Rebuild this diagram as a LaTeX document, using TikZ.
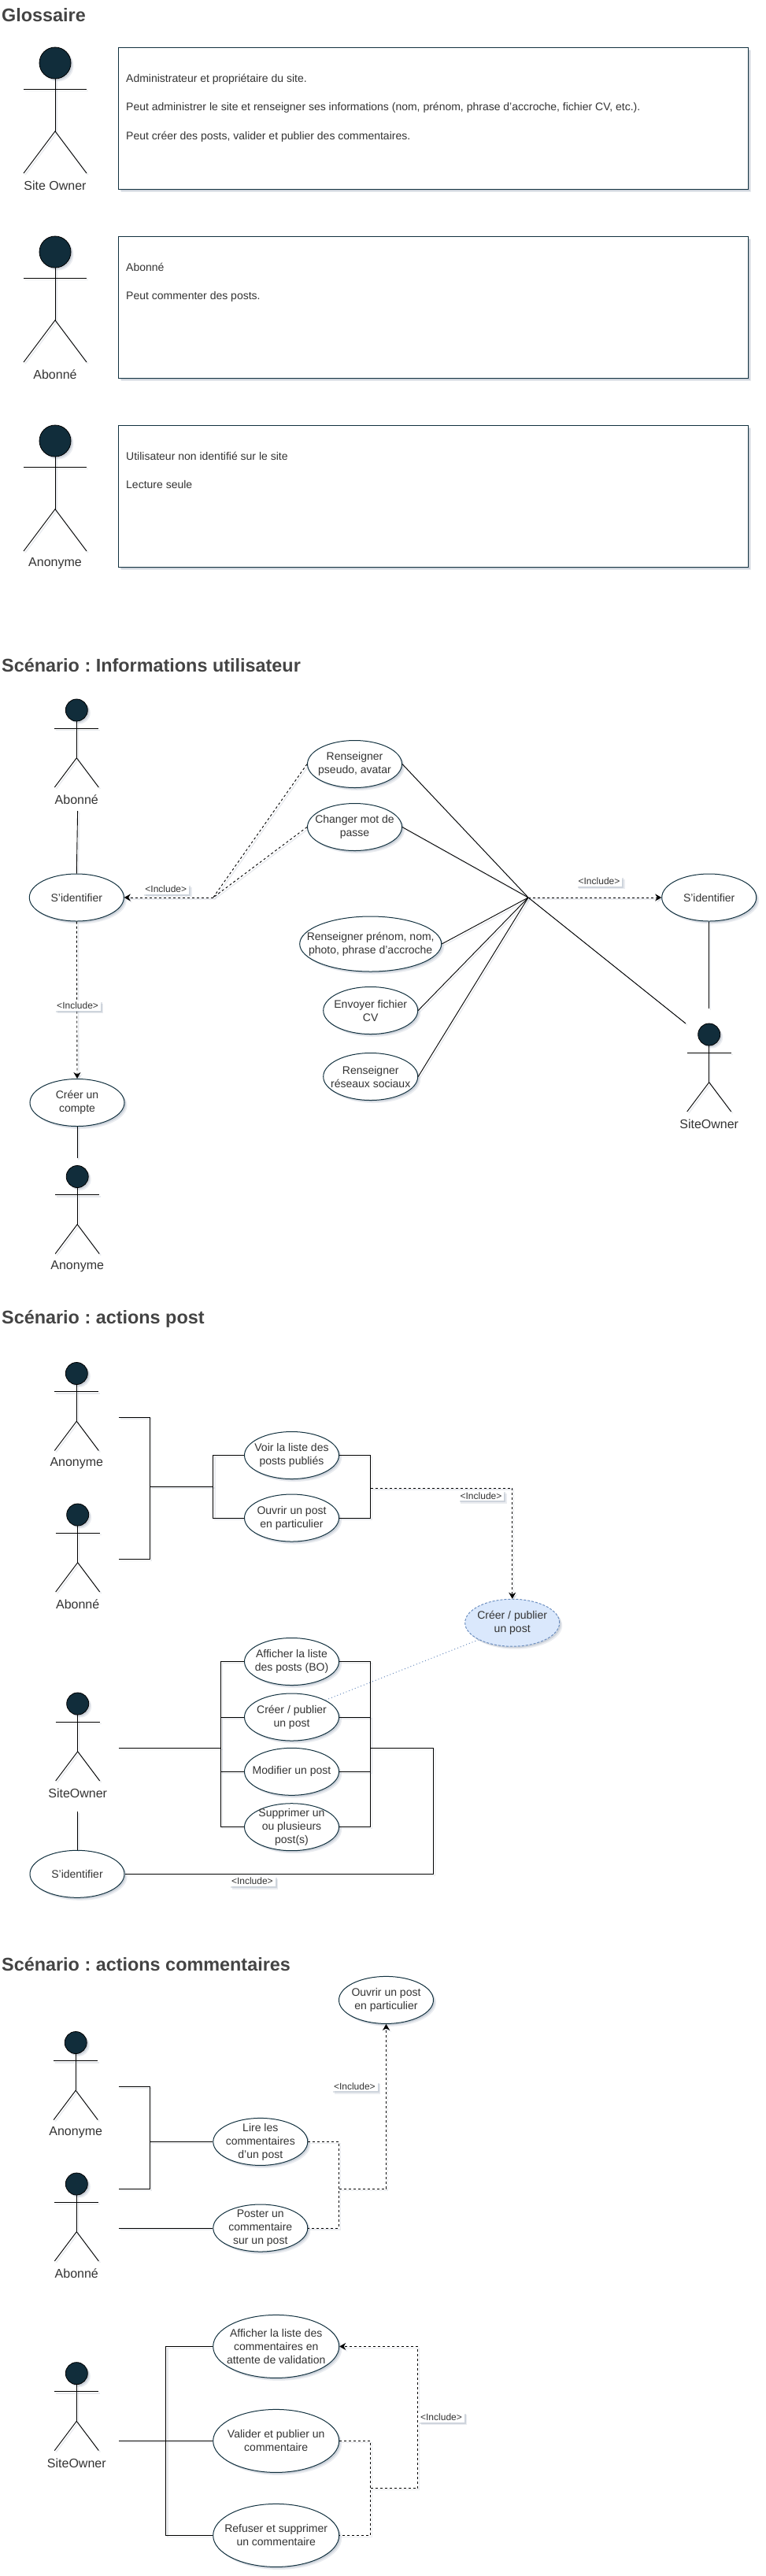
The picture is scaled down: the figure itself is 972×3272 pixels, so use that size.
\documentclass[tikz,border=0pt]{standalone}
\usepackage{fontspec}
\setmainfont{Liberation Sans}
\usetikzlibrary{positioning,arrows.meta,shapes.geometric,shadows}

\definecolor{inkdark}{HTML}{112D3B}
\definecolor{rimdark}{HTML}{12313F}
\definecolor{textgray}{HTML}{333333}
\definecolor{titlegray}{HTML}{444444}
\definecolor{shadowgray}{HTML}{6B7B94}
\definecolor{blueback}{HTML}{DAE8FC}
\definecolor{bluerim}{HTML}{6C8EBF}

\tikzset{
  softshadow/.style={
    drop shadow={shadow xshift=3.5pt, shadow yshift=-3.5pt, opacity=.14, fill=shadowgray},
    drop shadow={shadow xshift=2pt, shadow yshift=-2pt, opacity=.22, fill=shadowgray}},
  title/.style={anchor=west, inner sep=0pt, text=titlegray,
    font=\fontsize{23.4}{28}\selectfont\bfseries},
  head/.style={circle, draw=black, fill=inkdark, inner sep=0pt, line width=.8pt,
    softshadow},
  stick/.style={draw=black, line width=.9pt,
    preaction={draw=shadowgray, opacity=.15, line width=1.4pt,
      transform canvas={xshift=2pt, yshift=-2pt}}},
  actorlabel/.style={text=textgray, inner sep=0pt,
    font=\fontsize{16}{19}\selectfont},
  glossbox/.style={rectangle, draw=rimdark, fill=white, line width=1pt, anchor=north west,
    minimum width=800pt, minimum height=180pt, softshadow},
  glosstext/.style={anchor=north west, align=left, inner sep=0pt, text=textgray,
    font=\fontsize{14}{18.4}\selectfont},
  usecase/.style={ellipse, draw=rimdark, fill=white, line width=1pt, align=center,
    minimum width=120pt, minimum height=60pt, inner xsep=-50pt, inner ysep=-30pt,
    text=textgray, font=\fontsize{14}{17}\selectfont, softshadow},
  wideuse/.style={usecase, minimum width=160pt, minimum height=80pt},
  shared/.style={usecase, draw=bluerim, fill=blueback, dash pattern=on 3pt off 2pt},
  include/.style={fill=white, text=textgray, inner xsep=3pt, inner ysep=2pt,
    font=\fontsize{12}{14}\selectfont, softshadow},
  link/.style={stick},
  dep/.style={stick, dash pattern=on 3pt off 3pt},
  deparrow/.style={dep, -{Stealth[length=8pt,width=9pt]}}
}

% name, x, top of head, size factor, label
\newcommand{\actor}[5]{
  \node[head, minimum size=#4*40pt] (#1head) at (#2,#3+20*#4) {};
  \coordinate (#1hip) at (#2,#3+106.7*#4);
  \draw[stick] (#1head.south) -- (#1hip);
  \draw[stick] (#2-40*#4,#3+53.3*#4) coordinate (#1armL) -- (#2+40*#4,#3+53.3*#4) coordinate (#1armR);
  \draw[stick] (#2-40*#4,#3+160*#4) coordinate (#1footL) -- (#1hip) -- (#2+40*#4,#3+160*#4) coordinate (#1footR);
  \node[actorlabel] (#1label) at (#2,#3+160*#4+16) {#5};
}

\begin{document}
\frenchspacing
\begin{tikzpicture}[x=1pt, y=-1pt]

      \useasboundingbox (0,0) rectangle (972,3272);

      % Glossary
      \node[title] (titleGloss) at (2,19) {Glossaire};

      \actor{glossOwner}{70}{60}{1}{Site Owner}
      \node[glossbox] (boxOwner) at (150,60) {};
      \node[glosstext] (textOwner) at (160,93.5) {Administrateur et propriétaire du site.\\[18.4pt]
        Peut administrer le site et renseigner ses informations (nom, prénom, phrase d'accroche, fichier CV, etc.).\\[18.4pt]
        Peut créer des posts, valider et publier des commentaires.};

      \actor{glossAbo}{70}{300}{1}{Abonné}
      \node[glossbox] (boxAbo) at (150,300) {};
      \node[glosstext] (textAbo) at (160,333.5) {Abonné\\[18.4pt]
        Peut commenter des posts.};

      \actor{glossAno}{70}{540}{1}{Anonyme}
      \node[glossbox] (boxAno) at (150,540) {};
      \node[glosstext] (textAno) at (160,573.5) {Utilisateur non identifié sur le site\\[18.4pt]
        Lecture seule};

      % Scenario: user information
      \node[title] (titleInfos) at (2,845) {Scénario : Informations utilisateur};

      \actor{infosAbo}{97.3}{888}{.7}{Abonné}
      \node[usecase] (loginAbo) at (97.3,1140) {S'identifier};
      \coordinate (infosAboEnd) at (98.6,1030);
      \draw[link] (infosAboEnd) -- (loginAbo.north);

      \node[usecase] (pseudo) at (450.5,970.5) {Renseigner\\pseudo, avatar};
      \node[usecase] (password) at (450.5,1050.5) {Changer mot de\\passe};
      \node[usecase, minimum width=180pt, minimum height=70pt] (names) at (470.7,1199) {Renseigner prénom, nom,\\photo, phrase d'accroche};
      \node[usecase] (resume) at (470.7,1283.5) {Envoyer fichier\\CV};
      \node[usecase] (socials) at (470.7,1367.5) {Renseigner\\réseaux sociaux};

      % Dashed split towards the left login
      \coordinate (splitInfos) at (270.8,1140);
      \draw[dep] (pseudo.west) -- (splitInfos);
      \draw[dep] (password.west) -- (splitInfos);
      \draw[deparrow] (splitInfos) -- (loginAbo.east);
      \node[include] (incAbo) at (210.8,1129.5) {<Include>};

      % Create an account
      \node[usecase] (account) at (98,1400.5) {Créer un\\compte};
      \draw[deparrow] (loginAbo.south) -- (account.north);
      \node[include] (incAccount) at (98.6,1277.5) {<Include>};
      \actor{infosAno}{98.2}{1480.5}{.7}{Anonyme}
      \coordinate (infosAnoEnd) at (98,1470.5);
      \draw[link] (account.south) -- (infosAnoEnd);

      % Hub towards the site owner
      \node[usecase] (loginOwner) at (900.7,1140) {S'identifier};
      \actor{infosOwner}{900.7}{1300}{.7}{SiteOwner}
      \coordinate (hubInfos) at (671,1140);
      \coordinate (ownerEnd) at (871,1300);
      \coordinate (loginOwnerEnd) at (900.7,1280.5);
      \draw[link] (pseudo.east) -- (hubInfos) -- (ownerEnd);
      \draw[link] (password.east) -- (hubInfos);
      \draw[link] (names.east) -- (hubInfos);
      \draw[link] (resume.east) -- (hubInfos);
      \draw[link] (socials.east) -- (hubInfos);
      \draw[deparrow] (hubInfos) -- (loginOwner.west);
      \draw[link] (loginOwner.south) -- (loginOwnerEnd);
      \node[include] (incOwner) at (761,1119.5) {<Include>};

      % Scenario: post actions
      \node[title] (titlePost) at (2,1675) {Scénario : actions post};

      \actor{postAno}{97.3}{1730.5}{.7}{Anonyme}
      \actor{postAbo}{98.7}{1910}{.7}{Abonné}
      \node[usecase] (listPosts) at (370.5,1848.5) {Voir la liste des\\posts publiés};
      \node[usecase] (openPost) at (370.5,1928) {Ouvrir un post\\en particulier};

      \coordinate (postAnoEnd) at (150.8,1800);
      \coordinate (postAboEnd) at (150.8,1980.5);
      \coordinate (postBracket) at (190.5,1888);
      \coordinate (postFork) at (270.8,1888);
      \coordinate (postJoin) at (470.6,1890);
      \draw[link] (postAnoEnd) -| (postBracket) |- (postAboEnd);
      \draw[link] (postBracket) -- (postFork);
      \draw[link] (listPosts.west) -| (postFork) |- (openPost.west);
      \draw[link] (listPosts.east) -| (postJoin) |- (openPost.east);

      \node[shared] (publishShared) at (650.7,2061.2) {Créer / publier\\un post};
      \draw[deparrow] (postJoin) -| (publishShared.north);
      \node[include] (incPublic) at (611,1899.7) {<Include>};

      \node[usecase] (listBack) at (370.5,2110.5) {Afficher la liste\\des posts (BO)};
      \node[usecase] (publish) at (370.5,2181) {Créer / publier\\un post};
      \node[usecase] (editPost) at (370.5,2250.3) {Modifier un post};
      \node[usecase] (dropPost) at (370.5,2320.7) {Supprimer un\\ou plusieurs\\post(s)};
      \draw[bluerim, line width=1pt, dash pattern=on 1pt off 3pt] (publishShared.south west) -- (publish.north east);

      % Rails on both sides of the owner's post actions
      \coordinate (postOwnerFork) at (280.7,2220.5);
      \coordinate (postOwnerJoin) at (470.6,2220.5);
      \draw[link] (listBack.west) -| (postOwnerFork) |- (dropPost.west);
      \draw[link] (publish.west) -| (postOwnerFork);
      \draw[link] (editPost.west) -| (postOwnerFork);
      \draw[link] (listBack.east) -| (postOwnerJoin) |- (dropPost.east);
      \draw[link] (publish.east) -| (postOwnerJoin);
      \draw[link] (editPost.east) -| (postOwnerJoin);

      \actor{postOwner}{98.7}{2150}{.7}{SiteOwner}
      \coordinate (postOwnerEnd) at (150.8,2220.5);
      \draw[link] (postOwnerEnd) -- (postOwnerFork);

      \node[usecase] (loginPost) at (98,2380.3) {S'identifier};
      \coordinate (postLoginEnd) at (98,2300.8);
      \coordinate (postCorner) at (550.6,2220.5);
      \draw[link] (postLoginEnd) -- (loginPost.north);
      \draw[link] (postOwnerJoin) -- (postCorner) |- (loginPost.east);
      \node[include] (incLogin) at (320.4,2389.6) {<Include>};

      % Scenario: comment actions
      \node[title] (titleComments) at (2,2495.2) {Scénario : actions commentaires};

      \node[usecase] (openPostBis) at (490.5,2540.4) {Ouvrir un post\\en particulier};
      \actor{comAno}{96.2}{2580.5}{.7}{Anonyme}
      \actor{comAbo}{97.3}{2760}{.7}{Abonné}
      \node[usecase] (readCom) at (330.8,2720.4) {Lire les\\commentaires\\d'un post};
      \node[usecase] (postCom) at (330.8,2830) {Poster un\\commentaire\\sur un post};

      \coordinate (comAnoEnd) at (150.8,2650.5);
      \coordinate (comAboEnd) at (150.8,2780.4);
      \coordinate (comBracket) at (190.5,2720.4);
      \coordinate (comAboLow) at (150.8,2830);
      \draw[link] (comAnoEnd) -| (comBracket) |- (comAboEnd);
      \draw[link] (comBracket) -- (readCom.west);
      \draw[link] (comAboLow) -- (postCom.west);

      \coordinate (comJoin) at (430.5,2780.4);
      \draw[dep] (readCom.east) -| (comJoin) |- (postCom.east);
      \draw[deparrow] (comJoin) -| (openPostBis.south);
      \node[include] (incCom) at (450.4,2650) {<Include>};

      \node[wideuse] (waitingCom) at (350.7,2980.4) {Afficher la liste des\\commentaires en\\attente de validation};
      \node[wideuse] (validCom) at (350.7,3100.4) {Valider et publier un\\commentaire};
      \node[wideuse] (refuseCom) at (350.7,3220.4) {Refuser et supprimer\\un commentaire};
      \actor{comOwner}{97.3}{3000.6}{.7}{SiteOwner}

      \coordinate (comOwnerEnd) at (150.8,3100.4);
      \coordinate (comFork) at (210.8,3100.4);
      \draw[link] (comOwnerEnd) -- (validCom.west);
      \draw[link] (waitingCom.west) -| (comFork) |- (refuseCom.west);

      \coordinate (validJoin) at (470.6,3160.4);
      \coordinate (validCorner) at (530.7,3160.4);
      \draw[dep] (validCom.east) -| (validJoin) |- (refuseCom.east);
      \draw[deparrow] (validJoin) -- (validCorner) |- (waitingCom.east);
      \node[include] (incValid) at (560.5,3070.3) {<Include>};

\end{tikzpicture}
\end{document}
